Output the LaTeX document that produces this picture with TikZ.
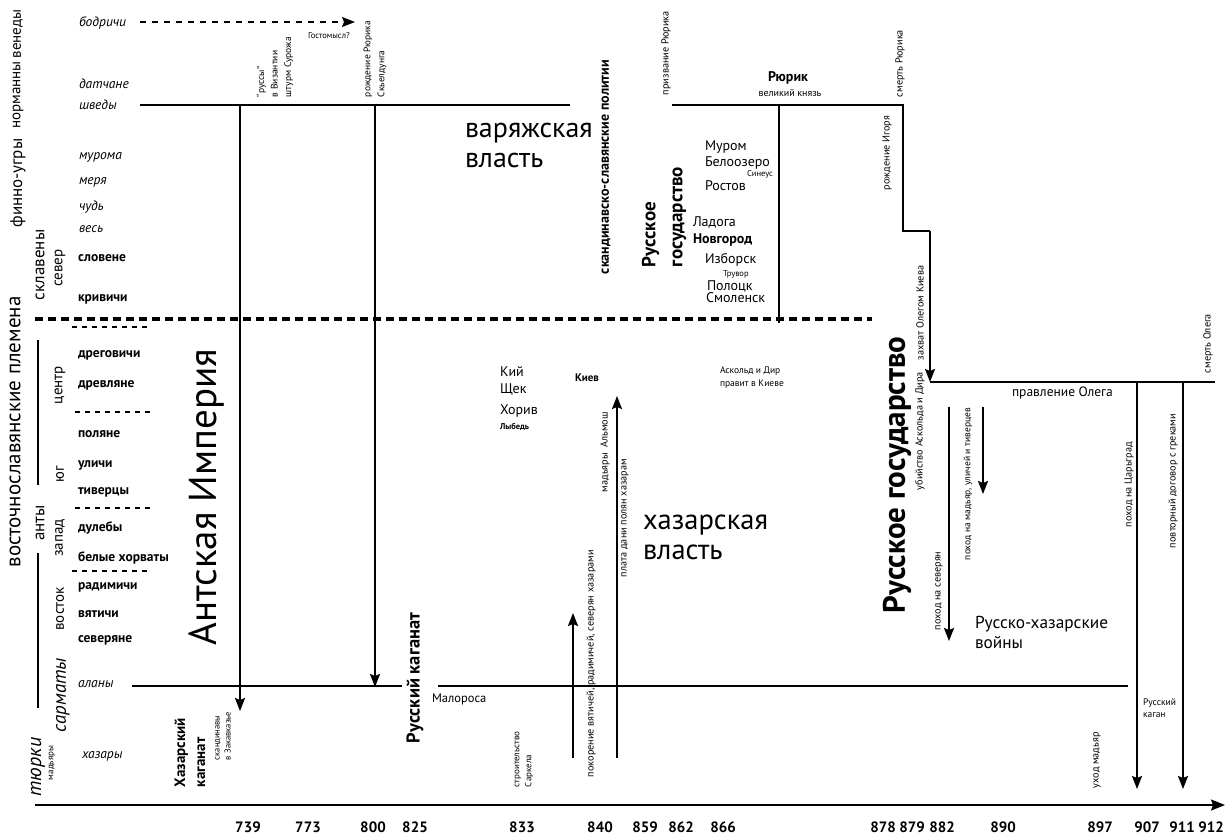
\documentclass[tikz,border=0pt]{standalone}
\usepackage{fontspec}
\setmainfont{PT Sans}
\usetikzlibrary{arrows.meta}
\begin{document}
\begin{tikzpicture}[x=1pt,y=-1pt,
  every node/.style={inner sep=0pt,outer sep=0pt},
  tl/.style={line width=1.8pt},
  arr/.style={tl,-{Stealth[length=13pt,width=10pt,inset=2pt]}},
  sepline/.style={line width=1.3pt,dash pattern=on 5pt off 5pt},
  border/.style={line width=3.5pt,dash pattern=on 8pt off 5pt},
  tribe/.style={anchor=base west,font=\bfseries\fontsize{13.5}{15}\selectfont},
  itribe/.style={anchor=base west,font=\itshape\fontsize{13.5}{15}\selectfont},
  grp/.style={rotate=90,font=\fontsize{15}{17}\selectfont},
  biggrp/.style={rotate=90,font=\fontsize{17}{19}\selectfont},
  note/.style={rotate=90,anchor=west,align=left,font=\fontsize{10.2}{13}\selectfont},
  big/.style={anchor=west,align=left,font=\fontsize{28.5}{30}\selectfont},
  city/.style={anchor=base west,font=\fontsize{14}{16}\selectfont},
  small/.style={font=\fontsize{8.5}{12}\selectfont},
  yr/.style={anchor=base,font=\bfseries\fontsize{15}{17}\selectfont}]
\useasboundingbox (0,0) rectangle (1226,835);

% ---------- group labels on the left ----------
\node[biggrp,font=\fontsize{15}{17}\selectfont] (venedy) at (18,34) {венеды};
\node[biggrp,font=\fontsize{15}{17}\selectfont] (normanny) at (18,95) {норманны};
\node[biggrp] (finno) at (18,183) {финно-угры};
\node[grp,font=\fontsize{17}{19}\selectfont] (sklaveny) at (40,265) {склавены};
\node[grp] (sever) at (60,268) {север};
\node[biggrp,font=\fontsize{21}{23}\selectfont] (vostslav) at (15,432) {восточнославянские племена};
\node[grp] (centr) at (60,385) {центр};
\node[grp] (yug) at (60,474) {юг};
\node[grp] (zapad) at (60,538) {запад};
\node[grp] (vostok) at (60,609) {восток};
\node[grp,font=\fontsize{17}{19}\selectfont] (anty) at (40,523) {анты};
\node[biggrp,font=\itshape\fontsize{19}{21}\selectfont] (sarmaty) at (63,695) {сарматы};
\node[biggrp,font=\itshape\fontsize{20}{22}\selectfont] (tyurki) at (38,767) {тюрки};
\node[grp,font=\fontsize{9}{10}\selectfont] (madyary) at (52,763) {мадьяры};

% brackets of the anty group
\coordinate (brA1) at (38,340); \coordinate (brA2) at (38,485);
\coordinate (brB1) at (38,553); \coordinate (brB2) at (38,708);
\draw[line width=1.5pt] (brA1) -- (brA2);
\draw[line width=1.5pt] (brB1) -- (brB2);

% ---------- tribes ----------
\node[itribe] (bodrichi) at (79,26) {бодричи};
\node[itribe] (datchane) at (79,88) {датчане};
\node[itribe] (shvedy) at (79,109) {шведы};
\node[itribe] (muroma) at (79,159) {мурома};
\node[itribe] (merya) at (79,184) {меря};
\node[itribe] (chud) at (79,210) {чудь};
\node[itribe] (ves) at (79,232) {весь};
\node[tribe] (slovene) at (78,261) {словене};
\node[tribe] (krivichi) at (78,301) {кривичи};
\node[tribe] (dregovichi) at (78,357) {дреговичи};
\node[tribe] (drevlyane) at (78,387) {древляне};
\node[tribe] (polyane) at (78,437) {поляне};
\node[tribe] (ulichi) at (78,467) {уличи};
\node[tribe] (tivertsy) at (78,494) {тиверцы};
\node[tribe] (dulebi) at (78,531) {дулебы};
\node[tribe] (khorvaty) at (78,561) {белые хорваты};
\node[tribe] (radimichi) at (78,589) {радимичи};
\node[tribe] (vyatichi) at (78,617) {вятичи};
\node[tribe] (severyane) at (78,642) {северяне};
\node[itribe] (alany) at (78,687) {аланы};
\node[itribe] (khazary) at (82,758) {хазары};

% short separators between tribe groups
\coordinate (s1a) at (72,327); \coordinate (s1b) at (148,327);
\coordinate (s2a) at (75,412); \coordinate (s2b) at (150,412);
\coordinate (s3a) at (75,508); \coordinate (s3b) at (150,508);
\coordinate (s4a) at (72,571); \coordinate (s4b) at (148,571);
\draw[sepline] (s1a) -- (s1b);
\draw[sepline] (s2a) -- (s2b);
\draw[sepline] (s3a) -- (s3b);
\draw[sepline] (s4a) -- (s4b);

% border between north and south
\coordinate (bd1) at (35,319); \coordinate (bd2) at (872,319);
\draw[border] (bd1) -- (bd2);

% ---------- time axis ----------
\coordinate (ax1) at (35,805); \coordinate (ax2) at (1225,805);
\draw[tl,-{Stealth[length=14pt,width=11pt,inset=2pt]}] (ax1) -- (ax2);
\foreach \x/\t in {248/739,308/773,373/800,415/825,522/833,600/840,645/859,681/862,723/866,883/878,912/879,942/882,1003/890,1100/897,1147/907,1182/911,1211/912}
  \node[yr] (y\t) at (\x,832) {\t};

% ---------- bodrichi ----------
\coordinate (bo1) at (140,22); \coordinate (bo2) at (355,22);
\draw[line width=1.5pt,dash pattern=on 6pt off 6pt,-{Stealth[length=13pt,width=10pt,inset=2pt]}] (bo1) -- (bo2);
\node[small,anchor=west] (gostomysl) at (308,36) {Гостомысл?};

% ---------- Swedish line and the 739 / 800 arrows ----------
\coordinate (sw1) at (140,105); \coordinate (sw2) at (570,105);
\draw[tl] (sw1) -- (sw2);
\coordinate (a739t) at (240,105); \coordinate (a739b) at (240,711);
\coordinate (a800t) at (375,105); \coordinate (a800b) at (375,687);
\draw[arr] (a739t) -- (a739b);
\draw[arr] (a800t) -- (a800b);
\node[note,font=\fontsize{9.5}{13.5}\selectfont] (russy) at (275,97) {“руссы”\\в Византии\\штурм Сурожа};
\node[note,font=\fontsize{9.5}{14}\selectfont] (rurikbirth) at (375,97) {рождение Рюрика\\Скьелдунга};

% ---------- Alans line ----------
\coordinate (al1) at (132,686); \coordinate (al2) at (402,686);
\coordinate (al3) at (438,686); \coordinate (al4) at (1128,686);
\draw[tl] (al1) -- (al2);
\draw[tl] (al3) -- (al4);

\node[rotate=90,font=\fontsize{39}{41}\selectfont] (antes) at (207,497) {Антская Империя};
\node[note,font=\bfseries\fontsize{15}{20}\selectfont] (khkag) at (190,787) {Хазарский\\каганат};
\node[note,font=\fontsize{8.5}{11}\selectfont] (skand) at (223,760) {скандинавы\\в Закавказье};
\node[rotate=90,font=\bfseries\fontsize{18.5}{20}\selectfont] (ruskag) at (415,678) {Русский каганат};
\node[anchor=west,font=\fontsize{12.5}{14}\selectfont] (maloros) at (432,699) {Малороса};
\node[note,font=\fontsize{9}{12}\selectfont] (sarkel) at (524,787) {строительство\\Саркела};

% ---------- Varangian rule ----------
\node[big,font=\fontsize{28}{30}\selectfont] (varyag) at (465,145) {варяжская\\власть};
\node[rotate=90,font=\bfseries\fontsize{14}{16}\selectfont] (politii) at (606,167) {скандинавско-славянские политии};
\node[note] (prizv) at (666,95) {призвание Рюрика};
\node[note,font=\bfseries\fontsize{19}{27}\selectfont] (rusgos1) at (664,267) {Русское\\государство};

% Rurik's line
\coordinate (rk1) at (672,105); \coordinate (rk2) at (903,105);
\coordinate (rk3) at (903,231); \coordinate (rk4) at (930,231);
\coordinate (ol0) at (930,382); \coordinate (ol1) at (1215,382);
\draw[tl] (rk1) -- (rk2) -- (rk3) -- (rk4);
\draw[arr] (rk4) -- (ol0);
\draw[tl] (ol0) -- (ol1);
\coordinate (rv1) at (779,105); \coordinate (rv2) at (779,323);
\draw[tl] (rv1) -- (rv2);
\node[font=\bfseries\fontsize{14}{16}\selectfont] (rurik) at (788,78) {Рюрик};
\node[font=\fontsize{10}{12}\selectfont] (velkn) at (790,93) {великий князь};
\node[note] (smrur) at (900,97) {смерть Рюрика};
\node[note] (igor) at (887,190) {рождение Игоря};

% northern towns
\node[city] (murom) at (705,150) {Муром};
\node[city] (beloozero) at (705,166) {Белоозеро};
\node[small,anchor=base east] (sineus) at (773,176) {Синеус};
\node[city] (rostov) at (705,190) {Ростов};
\node[city] (ladoga) at (693,226) {Ладога};
\node[city,font=\bfseries\fontsize{14}{16}\selectfont] (novgorod) at (693,243) {Новгород};
\node[city] (izborsk) at (705,263) {Изборск};
\node[small,anchor=west] (truvor) at (723,274) {Трувор};
\node[city] (polotsk) at (707,290) {Полоцк};
\node[city] (smolensk) at (706,302) {Смоленск};

% ---------- Kiev ----------
\node[city] (kiy) at (500,376) {Кий};
\node[city] (shchek) at (500,393) {Щек};
\node[city] (khoriv) at (500,414) {Хорив};
\node[anchor=west,font=\bfseries\fontsize{8.5}{10}\selectfont] (lybed) at (500,427) {Лыбедь};
\node[anchor=west,font=\bfseries\fontsize{11}{13}\selectfont] (kiev) at (575,378) {Киев};
\node[anchor=west,align=left,font=\fontsize{9.5}{13}\selectfont] (askold) at (720,378) {Аскольд и Дир\\правит в Киеве};

% Khazar rule
\coordinate (up1a) at (573,758); \coordinate (up1b) at (573,613);
\coordinate (up2a) at (617,758); \coordinate (up2b) at (617,396);
\draw[arr] (up1a) -- (up1b);
\draw[arr] (up2a) -- (up2b);
\node[note] (pokor) at (591,777) {покорение вятичей, радимичей, северян хазарами};
\node[note] (almosh) at (605,492) {мадьяры\ \ Альмош};
\node[note] (plata) at (625,577) {плата дани полян хазарам};
\node[big] (khazvl) at (643,537) {хазарская\\власть};

% ---------- Oleg ----------
\node[rotate=90,font=\bfseries\fontsize{31}{33}\selectfont] (rusgos2) at (897,475) {Русское государство};
\node[note] (zakhvat) at (920,360) {захват Олегом Киева};
\node[note] (ubiystvo) at (920,490) {убийство Аскольда и Дира};
\node[anchor=west,font=\fontsize{13.5}{15}\selectfont] (olegrule) at (1012,393) {правление Олега};
\node[note] (smoleg) at (1208,373) {смерть Олега};

\coordinate (sev1) at (949,407); \coordinate (sev2) at (949,641);
\coordinate (mad1) at (983,407); \coordinate (mad2) at (983,494);
\draw[arr] (sev1) -- (sev2);
\draw[arr] (mad1) -- (mad2);
\node[note] (pohsev) at (939,630) {поход на северян};
\node[note,font=\fontsize{9.5}{12}\selectfont] (pohmad) at (968,560) {поход на мадьяр, уличей и тиверцев};
\node[anchor=west,align=left,font=\fontsize{17.3}{20}\selectfont] (rkwars) at (975,632) {Русско-хазарские\\войны};

\coordinate (c907a) at (1137,382); \coordinate (c907b) at (1137,789);
\coordinate (c911a) at (1183,382); \coordinate (c911b) at (1183,789);
\draw[arr] (c907a) -- (c907b);
\draw[arr] (c911a) -- (c911b);
\node[note] (tsargrad) at (1129,527) {поход на Царьград};
\node[note] (dogovor) at (1173,548) {повторный договор с греками};
\node[anchor=west,align=left,font=\fontsize{9.5}{12}\selectfont] (rkagan) at (1143,708) {Русский\\каган};
\node[note] (ukhod) at (1097,788) {уход мадьяр};

\end{tikzpicture}
\end{document}
